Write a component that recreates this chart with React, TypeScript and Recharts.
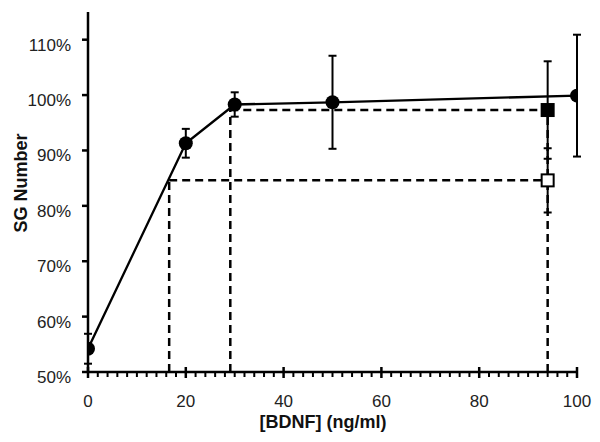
import React from 'react';
import {
  ComposedChart,
  Line,
  Scatter,
  XAxis,
  YAxis,
  ErrorBar,
  ReferenceLine,
} from 'recharts';

// main dose-response series (filled circles)
const bdnfDose = [0, 20, 30, 50, 100];
const sgNumber = [54.2, 91.3, 98.3, 98.7, 99.9];
const sgError = [2.7, 2.6, 2.2, 8.4, 11.0];

// squares at the right end
const filledSquareDose = [94];
const filledSquareValue = [97.3];
const filledSquareError = [8.8];
const openSquareDose = [94];
const openSquareValue = [84.6];
const openSquareError = [5.8];

// dashed guide lines: x of each vertical and the level it reaches
const guideLowX = 16.6;
const guideLowLevel = 84.6;
const guideHighX = 29.1;
const guideHighLevel = 97.3;
const guideEndX = 94;

const xMajorTicks = [0, 20, 40, 60, 80, 100];
const xAllTicks = Array.from({ length: 51 }, (_, i) => i * 2);
const yTicks = [50, 60, 70, 80, 90, 100, 110];

const mainData = bdnfDose.map((x, i) => ({ x, y: sgNumber[i], err: sgError[i] }));
const filledData = filledSquareDose.map((x, i) => ({
  x,
  y: filledSquareValue[i],
  err: filledSquareError[i],
}));
const openData = openSquareDose.map((x, i) => ({
  x,
  y: openSquareValue[i],
  err: openSquareError[i],
}));

const FONT = '"Liberation Sans", Arial, sans-serif';
const dash = '8 5';

const XTick = (props: any) => {
  const { x, y, payload } = props;
  const major = xMajorTicks.includes(payload.value);
  return (
    <g>
      {major ? (
        <line x1={x} x2={x} y1={y - 5} y2={y + 6} stroke="#000" strokeWidth={2.5} />
      ) : (
        <line x1={x} x2={x} y1={y} y2={y + 5} stroke="#000" strokeWidth={2} />
      )}
      {major && (
        <text x={x} y={y + 35} textAnchor="middle" fontSize={17} fontFamily={FONT} fill="#222">
          {payload.value}
        </text>
      )}
    </g>
  );
};

const YTick = (props: any) => {
  const { x, y, payload } = props;
  return (
    <g>
      <line x1={x - 6} x2={x} y1={y} y2={y} stroke="#000" strokeWidth={2.5} />
      <text x={x - 17} y={y + 11} textAnchor="end" fontSize={17} fontFamily={FONT} fill="#222">
        {payload.value}%
      </text>
    </g>
  );
};

const Square = (props: any) => {
  const { cx, cy, open } = props;
  return (
    <rect
      x={cx - 6}
      y={cy - 6}
      width={12}
      height={12}
      fill={open ? '#fff' : '#000'}
      stroke="#000"
      strokeWidth={2}
    />
  );
};

export default function App() {
  return (
    <div style={{ position: 'absolute', left: 0, top: 0 }}>
      <ComposedChart
        width={600}
        height={442}
        margin={{ top: 12, right: 23, bottom: 0, left: 0 }}
      >
        <XAxis
          type="number"
          dataKey="x"
          domain={[0, 100]}
          ticks={xAllTicks}
          interval={0}
          tickSize={0}
          tickMargin={0}
          tickLine={false}
          tick={(p: any) => <XTick {...p} />}
          axisLine={{ stroke: '#000', strokeWidth: 2.5 }}
          height={70}
          allowDataOverflow
          label={{
            content: () => (
              <text
                x={323}
                y={428}
                textAnchor="middle"
                fontSize={18}
                fontWeight="bold"
                fontFamily={FONT}
                fill="#111"
              >
                [BDNF] (ng/ml)
              </text>
            ),
          }}
        />
        <YAxis
          type="number"
          dataKey="y"
          domain={[50, 115]}
          ticks={yTicks}
          interval={0}
          tickSize={0}
          tickMargin={0}
          tickLine={false}
          tick={(p: any) => <YTick {...p} />}
          axisLine={{ stroke: '#000', strokeWidth: 2.5 }}
          width={88}
          allowDataOverflow
          label={{
            content: () => (
              <text
                x={27}
                y={183}
                transform="rotate(-90, 27, 183)"
                textAnchor="middle"
                fontSize={18}
                fontWeight="bold"
                fontFamily={FONT}
                fill="#111"
              >
                SG Number
              </text>
            ),
          }}
        />

        <ReferenceLine
          segment={[{ x: guideLowX, y: 50 }, { x: guideLowX, y: guideLowLevel }]}
          stroke="#000"
          strokeWidth={2.5}
          strokeDasharray={dash}
        />
        <ReferenceLine
          segment={[{ x: guideLowX, y: guideLowLevel }, { x: guideEndX, y: guideLowLevel }]}
          stroke="#000"
          strokeWidth={2.5}
          strokeDasharray={dash}
        />
        <ReferenceLine
          segment={[{ x: guideHighX, y: 50 }, { x: guideHighX, y: guideHighLevel }]}
          stroke="#000"
          strokeWidth={2.5}
          strokeDasharray={dash}
        />
        <ReferenceLine
          segment={[{ x: guideHighX, y: guideHighLevel }, { x: guideEndX, y: guideHighLevel }]}
          stroke="#000"
          strokeWidth={2.5}
          strokeDasharray={dash}
        />
        <ReferenceLine
          segment={[{ x: guideEndX, y: 50 }, { x: guideEndX, y: guideHighLevel }]}
          stroke="#000"
          strokeWidth={2.5}
          strokeDasharray={dash}
        />

        <Scatter
          data={filledData}
          dataKey="y"
          isAnimationActive={false}
          shape={(p: any) => <Square {...p} />}
        >
          <ErrorBar dataKey="err" direction="y" width={4} stroke="#000" strokeWidth={2} />
        </Scatter>
        <Scatter
          data={openData}
          dataKey="y"
          isAnimationActive={false}
          shape={(p: any) => <Square {...p} open />}
        >
          <ErrorBar dataKey="err" direction="y" width={4} stroke="#000" strokeWidth={2} />
        </Scatter>

        <Line
          data={mainData}
          dataKey="y"
          type="linear"
          stroke="#000"
          strokeWidth={2.3}
          dot={{ r: 7, fill: '#000', stroke: '#000', strokeWidth: 0 }}
          activeDot={false}
          isAnimationActive={false}
        >
          <ErrorBar dataKey="err" direction="y" width={4} stroke="#000" strokeWidth={2} />
        </Line>
      </ComposedChart>
    </div>
  );
}
